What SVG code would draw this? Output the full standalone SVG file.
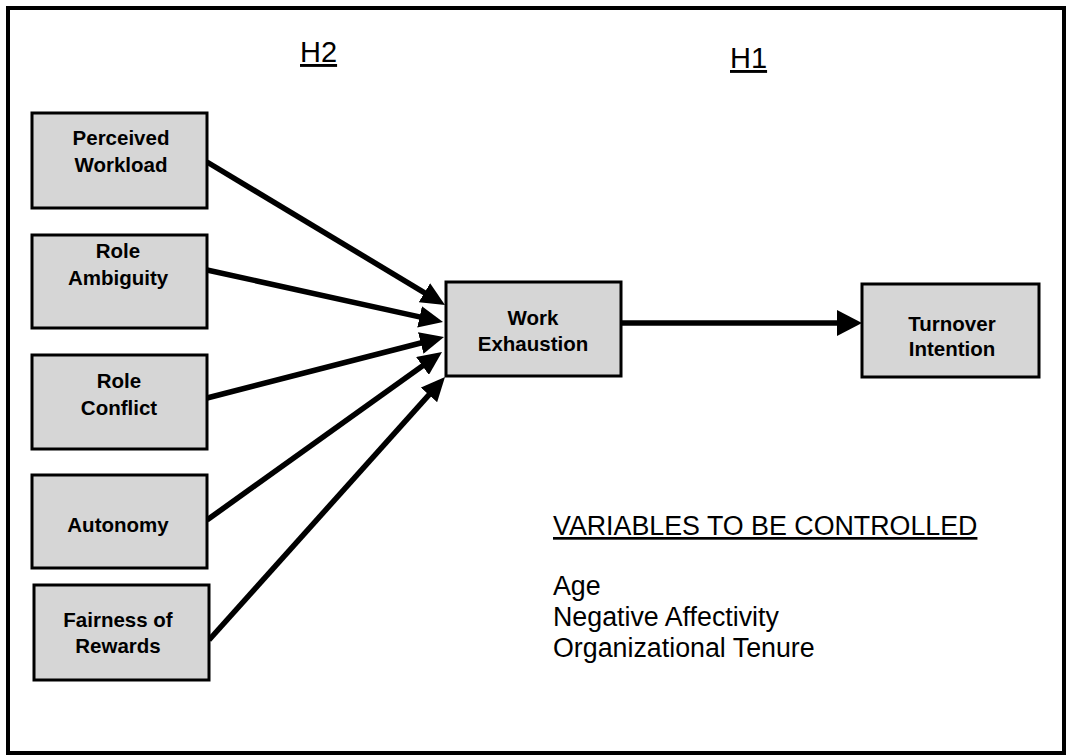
<svg xmlns="http://www.w3.org/2000/svg" width="1067" height="756" viewBox="0 0 1067 756">
<style>
.box{fill:#d6d6d6;stroke:#000;stroke-width:3}
.lbl{font-family:"Liberation Sans",Arial,sans-serif;font-weight:bold;font-size:20.5px;fill:#000;text-anchor:middle}
.hdr{font-family:"Liberation Sans",Arial,sans-serif;font-size:29px;fill:#000;text-decoration:underline}
.var{font-family:"Liberation Sans",Arial,sans-serif;font-size:26.8px;fill:#000}
.conn{stroke:#000;stroke-width:5.5;fill:none}
</style>
<defs>
<marker id="ah" markerUnits="userSpaceOnUse" viewBox="0 0 24 22" refX="8" refY="11" markerWidth="24" markerHeight="22" orient="auto">
<path d="M0,0 L24,11 L0,22 Z" fill="#000"/>
</marker>
<marker id="ah2" markerUnits="userSpaceOnUse" viewBox="0 0 25 26" refX="8" refY="13" markerWidth="25" markerHeight="26" orient="auto">
<path d="M0,0 L25,13 L0,26 Z" fill="#000"/>
</marker>
</defs>
<rect width="1067" height="756" fill="#fff"/>
<rect x="8" y="8" width="1056" height="745" fill="none" stroke="#000" stroke-width="4"/>
<text class="hdr" x="300" y="62">H2</text>
<text class="hdr" x="730" y="68">H1</text>
<g id="connectors">
<line class="conn" x1="207" y1="162" x2="431.3" y2="296.8" marker-end="url(#ah)"/>
<line class="conn" x1="207" y1="270" x2="427.4" y2="318.6" marker-end="url(#ah)"/>
<line class="conn" x1="207" y1="398" x2="428.5" y2="341.0" marker-end="url(#ah)"/>
<line class="conn" x1="207" y1="520" x2="429.0" y2="361.3" marker-end="url(#ah)"/>
<line class="conn" x1="209" y1="640" x2="434.3" y2="388.9" marker-end="url(#ah)"/>
<line class="conn" x1="621" y1="323" x2="845" y2="323" marker-end="url(#ah2)"/>
</g>
<g id="perceived-workload">
<rect class="box" x="32" y="113" width="175" height="95"/>
<text class="lbl" x="121" y="145">Perceived</text>
<text class="lbl" x="121" y="172">Workload</text>
</g>
<g id="role-ambiguity">
<rect class="box" x="32" y="235" width="175" height="93"/>
<text class="lbl" x="118" y="258">Role</text>
<text class="lbl" x="118" y="285">Ambiguity</text>
</g>
<g id="role-conflict">
<rect class="box" x="32" y="355" width="175" height="94"/>
<text class="lbl" x="119" y="388">Role</text>
<text class="lbl" x="119" y="415">Conflict</text>
</g>
<g id="autonomy">
<rect class="box" x="32" y="475" width="175" height="93"/>
<text class="lbl" x="118" y="532">Autonomy</text>
</g>
<g id="fairness-of-rewards">
<rect class="box" x="34" y="585" width="175" height="95"/>
<text class="lbl" x="118" y="627">Fairness of</text>
<text class="lbl" x="118" y="653">Rewards</text>
</g>
<g id="work-exhaustion">
<rect class="box" x="446" y="282" width="175" height="94"/>
<text class="lbl" x="533" y="325">Work</text>
<text class="lbl" x="533" y="351">Exhaustion</text>
</g>
<g id="turnover-intention">
<rect class="box" x="862" y="284" width="177" height="93"/>
<text class="lbl" x="952" y="331">Turnover</text>
<text class="lbl" x="952" y="356">Intention</text>
</g>
<g id="controls">
<text class="var" x="553" y="535" style="text-decoration:underline">VARIABLES TO BE CONTROLLED</text>
<text class="var" x="553" y="595">Age</text>
<text class="var" x="553" y="626">Negative Affectivity</text>
<text class="var" x="553" y="657">Organizational Tenure</text>
</g>
</svg>
